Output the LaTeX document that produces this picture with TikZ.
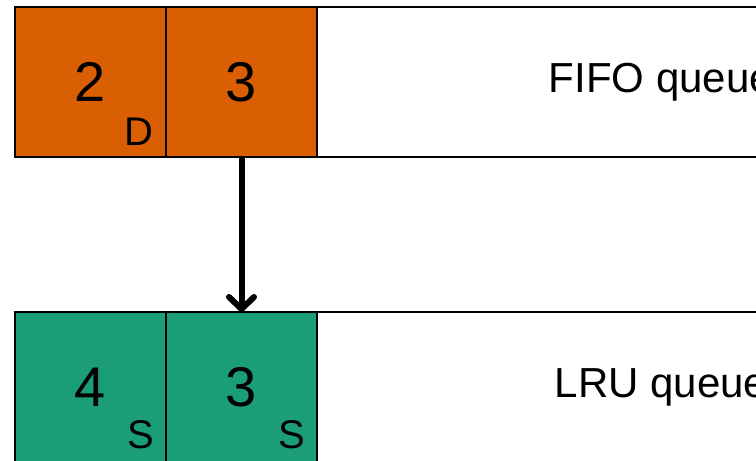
\documentclass[tikz,border=0pt]{standalone}
\usepackage{fontspec}
\setmainfont{Liberation Sans}
\usetikzlibrary{arrows.meta}
\definecolor{fifoorange}{HTML}{D95F02}
\definecolor{lrugreen}{HTML}{1B9E77}
\tikzstyle{cell} = [rectangle, draw, line width=2pt, minimum width=151pt, minimum height=150pt, inner sep=0pt, outer sep=0pt, font=\fontsize{56}{60}\selectfont]
\tikzstyle{fifo} = [cell, fill=fifoorange]
\tikzstyle{lru} = [cell, fill=lrugreen]
\tikzstyle{queue} = [rectangle, draw, line width=2pt, minimum width=688pt, minimum height=150pt, inner sep=0pt, outer sep=0pt, font=\fontsize{42}{50}\selectfont]
\tikzstyle{tag} = [inner sep=0pt, anchor=base east, font=\fontsize{40}{48}\selectfont]
\tikzstyle{line} = [draw, line width=6pt, -{Straight Barb[length=12pt,width=25pt,round]}]

\begin{document}
\begin{tikzpicture}[x=1pt, y=1pt, node distance=151pt]

\useasboundingbox (0,0) rectangle (756,461);
\clip (0,0) rectangle (756,461);

\node[fifo] (f2) at (90.5,379) {2};
\node[fifo, right of=f2] (f3) {3};
\node[queue, right of=f3, node distance=419.5pt] (fq) {FIFO queue};
\node[tag] (d2) at ([xshift=-12pt,yshift=11pt]f2.south east) {D};

\node[lru, below of=f2, node distance=305pt] (l4) {4};
\node[lru, right of=l4] (l3) {3};
\node[queue, right of=l3, node distance=419.5pt] (lq) {LRU queue};
\node[tag] (s4) at ([xshift=-12pt,yshift=13pt]l4.south east) {S};
\node[tag] (s3) at ([xshift=-12pt,yshift=13pt]l3.south east) {S};

\path [line] (f3.south) -- (l3.north);

\end{tikzpicture}
\end{document}
